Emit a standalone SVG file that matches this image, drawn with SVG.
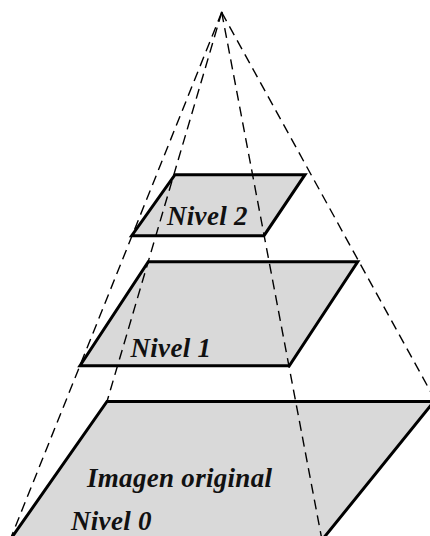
<svg xmlns="http://www.w3.org/2000/svg" width="430" height="536" viewBox="0 0 430 536">
<style>
.lvl{fill:#d9d9d9;stroke:none}
.edge{fill:none;stroke:#000;stroke-width:3;stroke-linejoin:miter}
.dash{fill:none;stroke:#000;stroke-width:1.4;stroke-dasharray:10 6}
.lbl{font-family:"Liberation Serif","Times New Roman",serif;font-weight:bold;font-style:italic;font-size:27px;letter-spacing:0.3px;fill:#111}
</style>
<rect width="430" height="536" fill="#fff"/>
<g id="fills">
<polygon class="lvl" points="175,174.7 305,174.7 264,235.7 131.7,235.7"/>
<polygon class="lvl" points="148.3,261.7 357.7,261.7 289.3,365.7 80,365.7"/>
<polygon class="lvl" points="107,401.5 434,401.5 322,540 10,540"/>
</g>
<g id="connectors">
<line class="dash" x1="221.7" y1="12.3" x2="10" y2="540"/>
<line class="dash" x1="221.7" y1="12.3" x2="107" y2="401.5"/>
<line class="dash" x1="221.7" y1="12.3" x2="322" y2="540"/>
<line class="dash" x1="221.7" y1="12.3" x2="436" y2="401.5"/>
<circle cx="221.7" cy="12.3" r="0.9" fill="#000"/>
</g>
<g id="nivel2">
<polygon class="edge" points="175,174.7 305,174.7 264,235.7 131.7,235.7"/>
<text class="lbl" x="167" y="225">Nivel 2</text>
</g>
<g id="nivel1">
<polygon class="edge" points="148.3,261.7 357.7,261.7 289.3,365.7 80,365.7"/>
<text class="lbl" x="130.5" y="356.5">Nivel 1</text>
</g>
<g id="nivel0">
<polygon class="edge" points="107,401.5 434,401.5 322,540 10,540"/>
<text class="lbl" x="87" y="487">Imagen original</text>
<text class="lbl" x="71" y="530">Nivel 0</text>
</g>
</svg>
